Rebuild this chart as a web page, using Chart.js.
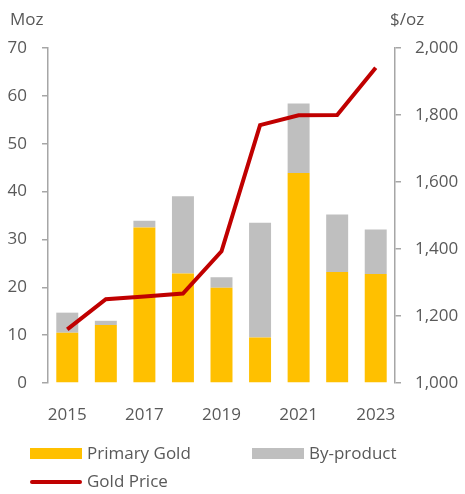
<!DOCTYPE html>
<html>
<head>
<meta charset="utf-8">
<script src="https://cdn.jsdelivr.net/npm/chart.js@4"></script>
<style>
  html, body { margin: 0; padding: 0; background: #fff; }
  #wrap { position: relative; width: 465px; height: 494px; font-family: 'Open Sans', sans-serif; color: #595959; }
  #myChart { position: absolute; left: 0; top: 0; }
  .axis-title { position: absolute; font-size: 17px; line-height: 20px; }
  .legend-item { position: absolute; font-size: 17px; line-height: 20px; white-space: nowrap; }
  .swatch { position: absolute; }
</style>
</head>
<body>
<div id="wrap">
  <canvas id="myChart" width="465" height="494"></canvas>
  <div class="axis-title" style="left:10px; top:9px;">Moz</div>
  <div class="axis-title" style="left:390px; top:9px;">$/oz</div>
  <div id="legend"></div>
</div>
<script>
// years on the x axis
const years = ['2015', '2016', '2017', '2018', '2019', '2020', '2021', '2022', '2023'];
// production, Moz
const primaryGold = [10.5, 12.1, 32.5, 22.9, 19.9, 9.5, 43.9, 23.2, 22.8];
const byProduct = [4.2, 0.9, 1.4, 16.1, 2.2, 24.0, 14.5, 12.0, 9.3];
// average gold price, $/oz
const goldPrice = [1160, 1250, 1258, 1267, 1393, 1770, 1799, 1800, 1941];

const textColor = '#595959';
const axisColor = '#A6A6A6';
const tickFont = { family: 'Open Sans', size: 17 };

const ctx = document.getElementById('myChart').getContext('2d');

const chart = new Chart(ctx, {
    type: 'bar',
    data: {
        labels: years,
        datasets: [
            {
                label: 'Primary Gold',
                data: primaryGold,
                backgroundColor: '#FFC000',
                yAxisID: 'y',
                order: 1,
                categoryPercentage: 1,
                barPercentage: 0.57
            },
            {
                label: 'By-product',
                data: byProduct,
                backgroundColor: '#BFBFBF',
                yAxisID: 'y',
                order: 2,
                categoryPercentage: 1,
                barPercentage: 0.57
            },
            {
                type: 'line',
                label: 'Gold Price',
                data: goldPrice,
                borderColor: '#C00000',
                backgroundColor: '#C00000',
                borderWidth: 4,
                pointRadius: 0,
                tension: 0,
                yAxisID: 'y1',
                order: 0
            }
        ]
    },
    options: {
        responsive: false,
        animation: false,
        layout: { padding: { top: 48, left: 0, right: 0, bottom: 71 } },
        plugins: {
            legend: { display: false },
            tooltip: { enabled: false }
        },
        scales: {
            x: {
                stacked: true,
                grid: { display: false },
                border: { display: false },
                ticks: {
                    color: textColor,
                    font: tickFont,
                    autoSkip: false,
                    maxRotation: 0,
                    padding: 14,
                    callback: function (val, i) {
                        return i % 2 === 0 ? years[i] : '';
                    }
                },
                afterFit: function (scale) { scale.height = 40; }
            },
            y: {
                stacked: true,
                position: 'left',
                min: 0,
                max: 70,
                ticks: { stepSize: 10, color: textColor, font: tickFont, padding: 15 },
                grid: { drawOnChartArea: false, drawTicks: true, tickLength: 6, color: axisColor, lineWidth: 1.5 },
                border: { display: true, color: axisColor, width: 1.5 },
                afterFit: function (scale) { scale.width = 48; }
            },
            y1: {
                position: 'right',
                min: 1000,
                max: 2000,
                ticks: {
                    stepSize: 200,
                    color: textColor,
                    font: tickFont,
                    padding: 14,
                    callback: function (v) { return v.toLocaleString('en-US'); }
                },
                grid: { drawOnChartArea: false, drawTicks: true, tickLength: 6, color: axisColor, lineWidth: 1.5 },
                border: { display: true, color: axisColor, width: 1.5 },
                afterFit: function (scale) { scale.width = 70; }
            }
        }
    }
});

// simple html legend laid out like the original
const legendPos = [
    { left: 30, top: 443 },
    { left: 252, top: 443 },
    { left: 30, top: 471 }
];
const legendEl = document.getElementById('legend');
chart.data.datasets.forEach(function (ds, i) {
    const p = legendPos[i];
    const sw = document.createElement('div');
    sw.className = 'swatch';
    if (ds.type === 'line') {
        sw.style.cssText = 'left:' + p.left + 'px;top:' + (p.top + 9) + 'px;width:52px;height:4px;border-radius:2px;background:' + ds.borderColor;
    } else {
        sw.style.cssText = 'left:' + p.left + 'px;top:' + (p.top + 5) + 'px;width:52px;height:11px;background:' + ds.backgroundColor;
    }
    legendEl.appendChild(sw);
    const txt = document.createElement('div');
    txt.className = 'legend-item';
    txt.style.left = (p.left + 57) + 'px';
    txt.style.top = p.top + 'px';
    txt.textContent = ds.label;
    legendEl.appendChild(txt);
});
</script>
</body>
</html>
